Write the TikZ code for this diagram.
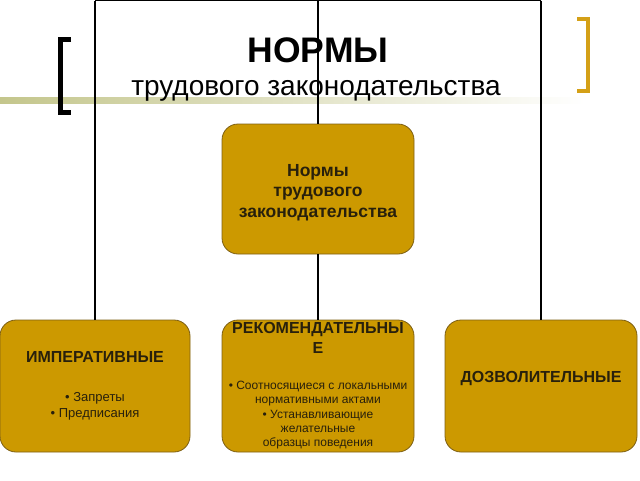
\documentclass[tikz,border=0pt]{standalone}
\usepackage{fontspec}
\setmainfont{Liberation Sans}
\usetikzlibrary{positioning}
\definecolor{boxfill}{RGB}{204,153,0}
\definecolor{boxline}{RGB}{125,95,20}
\definecolor{boxtext}{RGB}{40,32,12}
\definecolor{bargreen}{RGB}{196,198,140}
\definecolor{bracketgold}{RGB}{212,160,23}
\newcommand{\hd}[1]{{\bfseries\fontsize{16}{19}\selectfont #1}}
\tikzset{normbox/.style={draw=boxline,fill=boxfill,rounded corners=16pt,line width=0.8pt,
  inner sep=0pt,align=center,text=boxtext,font=\fontsize{13}{16}\selectfont},
  link/.style={draw=black,line width=1.3pt}}

\begin{document}
\begin{tikzpicture}[x=1pt,y=-1pt]
\useasboundingbox (0,0) rectangle (640,480);
\shade[left color=bargreen,right color=white] (0,97) rectangle (585,103);
\draw[line width=5pt,line cap=butt] (71,39.5) -- (60,39.5) -- (60,112.5) -- (71,112.5);
\draw[bracketgold,line width=4.5pt] (577,19) -- (588,19) -- (588,91) -- (577,91);

\node[font=\bfseries\fontsize{35.5}{40}\selectfont] (title) at (318,50) {НОРМЫ};
\node[font=\fontsize{28}{32}\selectfont] (subtitle) at (316,91) {трудового законодательства};

\node[normbox,minimum width=192pt,minimum height=130pt,font=\bfseries\fontsize{17.5}{20.5}\selectfont] (norms) at (318,189)
  {\rule{0pt}{18.5pt}Нормы\\трудового\\законодательства};
\node[normbox,minimum width=190pt,minimum height=132pt] (imper) at (95,386)
  {\hd{ИМПЕРАТИВНЫЕ}\\[23pt]• Запреты\\• Предписания};
\node[normbox,minimum width=192pt,minimum height=132pt,font=\fontsize{12}{14.3}\selectfont] (rekom) at (318,386)
  {\hd{РЕКОМЕНДАТЕЛЬНЫ}\\[5pt]\hd{Е}\\[22pt]• Соотносящиеся с локальными\\нормативными актами\\• Устанавливающие\\желательные\\образцы поведения};
\node[normbox,minimum width=192pt,minimum height=132pt] (dozv) at (541,386)
  {\hd{ДОЗВОЛИТЕЛЬНЫЕ}\\[2pt]~};

\coordinate (hub) at (318,0.65);
\coordinate (lcorner) at (95,0.65);
\coordinate (rcorner) at (541,0.65);
\draw[link] (norms.north) -- (hub);
\draw[link] (lcorner) -- (rcorner);
\draw[link] (lcorner) -- (imper.north);
\draw[link] (rcorner) -- (dozv.north);
\draw[link] (norms.south) -- (rekom.north);
\end{tikzpicture}
\end{document}
